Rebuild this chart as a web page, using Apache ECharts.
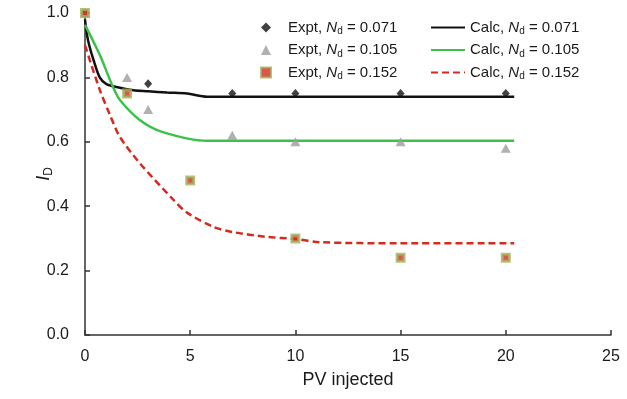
<!DOCTYPE html>
<html><head><meta charset="utf-8">
<script src="https://cdn.jsdelivr.net/npm/echarts@6/dist/echarts.min.js"></script>
<style>html,body{margin:0;padding:0;background:#fff}#c{width:627px;height:399px}</style>
</head><body><div id="c"></div>
<script>
const xTicks = [0, 5, 10, 15, 20, 25];
const yTicks = [0.0, 0.2, 0.4, 0.6, 0.8, 1.0];

const expt071X = [0, 3, 7, 10, 15, 20];
const expt071Y = [1.0, 0.78, 0.75, 0.75, 0.75, 0.75];
const expt105X = [0, 2, 3, 7, 10, 15, 20];
const expt105Y = [1.0, 0.80, 0.70, 0.62, 0.60, 0.60, 0.58];
const expt152X = [0, 2, 5, 10, 15, 20];
const expt152Y = [1.0, 0.75, 0.48, 0.30, 0.24, 0.24];

const calc071X = [0, 0.1, 0.2, 0.4, 0.7, 1.0, 1.5, 2.3, 3.0, 3.9, 4.85, 5.8, 10, 15, 20.4];
const calc071Y = [0.98, 0.93, 0.90, 0.855, 0.80, 0.78, 0.77, 0.76, 0.757, 0.753, 0.75, 0.74, 0.74, 0.74, 0.74];
const calc105X = [0, 0.7, 1.33, 1.66, 2.6, 3.7, 5.8, 10, 15, 20.4];
const calc105Y = [0.963, 0.87, 0.77, 0.73, 0.668, 0.63, 0.603, 0.603, 0.603, 0.603];
const calc152X = [0, 0.71, 1.19, 1.66, 2.6, 4.2, 4.85, 6.1, 7.0, 8.6, 10, 11.2, 15, 20.4];
const calc152Y = [0.90, 0.76, 0.683, 0.615, 0.534, 0.42, 0.38, 0.336, 0.32, 0.305, 0.298, 0.288, 0.285, 0.285];

const names = {
  e1: 'Expt, Nd = 0.071', e2: 'Expt, Nd = 0.105', e3: 'Expt, Nd = 0.152',
  c1: 'Calc, Nd = 0.071', c2: 'Calc, Nd = 0.105', c3: 'Calc, Nd = 0.152'
};
const zip = (xs, ys) => xs.map((x, i) => [x, ys[i]]);
const FONT = 'Liberation Sans, Arial, sans-serif';
const rich = {
  g: {width: 12},
  t: {fontFamily: FONT, fontSize: 15, color: '#1a1a1a'},
  i: {fontFamily: FONT, fontSize: 15, fontStyle: 'italic', color: '#1a1a1a'},
  s: {fontFamily: FONT, fontSize: 10, color: '#1a1a1a', verticalAlign: 'bottom', padding: [8, 0, 0, 0]}
};
const fmt = n => {
  const m = n.match(/^(\w+), Nd = (.*)$/);
  return '{t|' + m[1] + ', }{i|N}{s|d}{t| = ' + m[2] + '}';
};
const fmtGap = n => '{g|}' + fmt(n);
const noSym = {opacity: 0};

const chart = echarts.init(document.getElementById('c'));
chart.setOption({
  animation: false,
  backgroundColor: '#fff',
  grid: {left: 85, right: 16, top: 13, bottom: 64},
  legend: [
    {data: [names.e1, names.e2, names.e3], orient: 'vertical', left: 255, top: 15, itemGap: 6,
     itemWidth: 10, itemHeight: 10, formatter: fmtGap, textStyle: {rich: rich}},
    {data: [
       {name: names.c1, itemStyle: noSym},
       {name: names.c2, itemStyle: noSym},
       {name: names.c3, itemStyle: noSym}],
     orient: 'vertical', left: 425, top: 15, itemGap: 6,
     itemWidth: 34, itemHeight: 12, formatter: fmt, textStyle: {rich: rich}}
  ],
  xAxis: {
    type: 'value', min: 0, max: 25, interval: 5,
    name: 'PV injected', nameLocation: 'middle', nameGap: 36,
    nameTextStyle: {fontFamily: FONT, fontSize: 18, color: '#1a1a1a'},
    axisLine: {lineStyle: {color: '#333', width: 1.5}},
    axisTick: {inside: true, length: 5, lineStyle: {color: '#333', width: 1.5}},
    axisLabel: {fontFamily: FONT, fontSize: 16, color: '#1a1a1a', margin: 14,
      formatter: v => xTicks.includes(v) ? String(v) : ''},
    splitLine: {show: false}
  },
  yAxis: {
    type: 'value', min: 0, max: 1, interval: 0.2,
    name: '{i|I}{s|D}', nameLocation: 'middle', nameGap: 30, nameRotate: 90, nameMoveOverlap: false,
    nameTextStyle: {rich: {
      i: {fontFamily: FONT, fontSize: 18, fontStyle: 'italic', color: '#1a1a1a'},
      s: {fontFamily: FONT, fontSize: 12, color: '#1a1a1a', verticalAlign: 'bottom', padding: [10, 0, 0, 0]}
    }},
    axisLine: {show: true, lineStyle: {color: '#333', width: 1.5}},
    axisTick: {show: true, inside: true, length: 5, lineStyle: {color: '#333', width: 1.5}},
    axisLabel: {fontFamily: FONT, fontSize: 16, color: '#1a1a1a', margin: 16,
      formatter: v => yTicks.map(t => t.toFixed(1)).includes(v.toFixed(1)) ? v.toFixed(1) : ''},
    splitLine: {show: false}
  },
  series: [
    {name: names.c1, type: 'line', data: zip(calc071X, calc071Y), symbol: 'none', smooth: 0.3,
     lineStyle: {color: '#111', width: 2.5}, itemStyle: {color: '#111'}, z: 2},
    {name: names.c2, type: 'line', data: zip(calc105X, calc105Y), symbol: 'none', smooth: 0.3,
     lineStyle: {color: '#3cc24a', width: 2.5}, itemStyle: {color: '#3cc24a'}, z: 2},
    {name: names.c3, type: 'line', data: zip(calc152X, calc152Y), symbol: 'none', smooth: 0.3,
     lineStyle: {color: '#d42a20', width: 2.5, type: [7, 4]}, itemStyle: {color: '#d42a20'}, z: 2},
    {name: names.e1, type: 'scatter', data: zip(expt071X, expt071Y), symbol: 'diamond', symbolSize: [8, 9],
     itemStyle: {color: '#111'}, z: 3},
    {name: names.e2, type: 'scatter', data: zip(expt105X, expt105Y), symbol: 'triangle', symbolSize: [10, 9],
     itemStyle: {color: '#9c9c9c'}, z: 3},
    {name: names.e3, type: 'scatter', data: zip(expt152X, expt152Y), symbol: 'rect', symbolSize: 7,
     itemStyle: {color: '#d42a20', borderColor: '#a3b35c', borderWidth: 3}, z: 4}
  ]
});
</script></body></html>
